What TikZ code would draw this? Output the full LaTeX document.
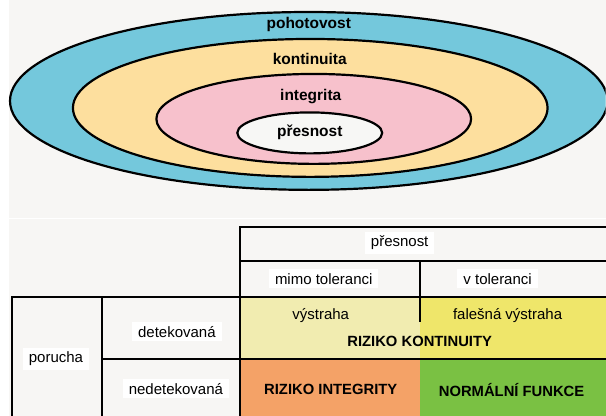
\documentclass[tikz,border=0pt]{standalone}
\usepackage{fontspec}
\setmainfont{Liberation Sans}
\definecolor{bgcol}{HTML}{F7F6F4}
\definecolor{ringA}{HTML}{74C8DC}
\definecolor{ringB}{HTML}{FDDF9E}
\definecolor{ringC}{HTML}{F7C1CC}
\definecolor{ringD}{HTML}{F7F7F5}
\definecolor{paleyel}{HTML}{F1ECB0}
\definecolor{yel}{HTML}{EFE66A}
\definecolor{orng}{HTML}{F4A267}
\definecolor{grn}{HTML}{7AC143}
\tikzset{
  ring/.style={draw=black, line width=2.2pt},
  ringlabel/.style={font=\fontsize{15.5}{18}\selectfont\bfseries, inner sep=0pt},
  grid/.style={draw=black, line width=1.9pt},
  cell/.style={font=\fontsize{15}{18}\selectfont, fill=white, inner xsep=6pt, inner ysep=4pt},
  plain/.style={font=\fontsize{15}{18}\selectfont, inner sep=1pt},
  bold/.style={font=\fontsize{14.8}{18}\selectfont\bfseries, inner sep=1pt}
}
\begin{document}
\begin{tikzpicture}[x=1pt,y=-1pt]
  % canvas
  \fill[bgcol] (0,0) rectangle (606,416);
  \fill[white] (0,0) rectangle (9,416);
  \draw[white, line width=1pt] (9,219) -- (606,219);
  \useasboundingbox (0,0) rectangle (606,416);

  % nested rings
  \begin{scope}
    \clip (0,0) rectangle (606,416);
    \filldraw[ring, fill=ringA] (309,101) ellipse (299 and 89);
  \end{scope}
  \filldraw[ring, fill=ringB] (310.5,108) ellipse (237.5 and 69);
  \filldraw[ring, fill=ringC] (314,119) ellipse (157.5 and 45);
  \filldraw[ring, fill=ringD] (310,133) ellipse (72.5 and 20.5);

  \node[ringlabel] (avail) at (309,25) {pohotovost};
  \node[ringlabel] (cont)  at (310,59) {kontinuita};
  \node[ringlabel] (integ) at (311,97) {integrita};
  \node[ringlabel] (accur) at (310,132) {přesnost};

  % coloured outcome cells
  \fill[paleyel] (240,297) rectangle (420,359);
  \fill[yel]     (420,297) rectangle (606,359);
  \fill[orng]    (240,359) rectangle (420,416);
  \fill[grn]     (420,359) rectangle (606,416);

  % header labels
  \node[cell] (hacc) at (400,243) {přesnost};
  \node[cell] (hout) at (324,279) {mimo toleranci};
  \node[cell] (hin)  at (498,279) {v toleranci};
  \node[cell] (rdet) at (177,332) {detekovaná};
  \node[cell] (rund) at (176,389) {nedetekovaná};
  \node[cell] (rfail) at (56,359) {porucha};

  % table rules
  \draw[grid] (606,227) -- (240,227) -- (240,416);
  \draw[grid] (240,261) -- (606,261);
  \draw[grid] (420,261) -- (420,322);
  \draw[grid] (12,416) -- (12,297) -- (606,297);
  \draw[grid] (102,297) -- (102,416);
  \draw[grid] (102,359) -- (606,359);

  % outcome labels
  \node[plain] (warn)  at (321,316) {výstraha};
  \node[plain] (fwarn) at (508,316) {falešná výstraha};
  \node[bold]  (rcont) at (420,342) {RIZIKO KONTINUITY};
  \node[bold]  (rint)  at (331,390) {RIZIKO INTEGRITY};
  \node[bold]  (norm)  at (512,390) {NORMÁLNÍ FUNKCE};
\end{tikzpicture}
\end{document}
